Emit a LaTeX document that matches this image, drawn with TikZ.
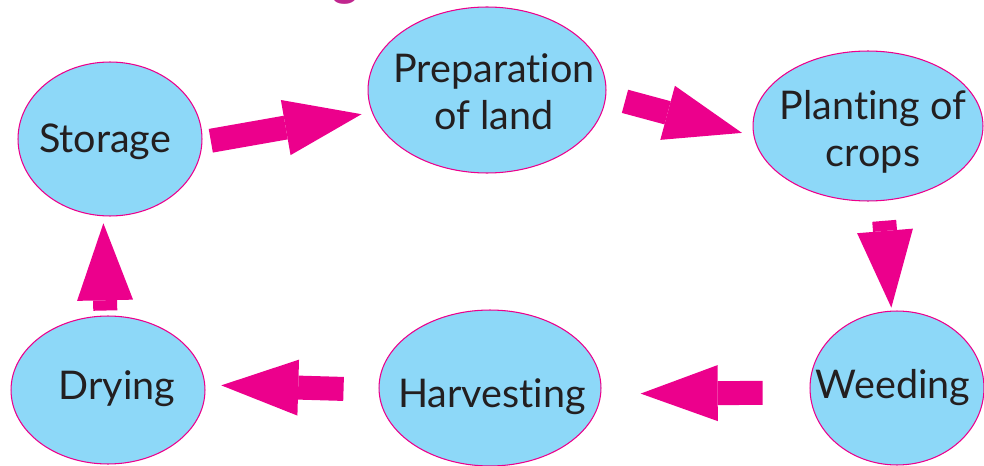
\documentclass[tikz,border=0pt]{standalone}
\usepackage{fontspec}
\setmainfont{Lato}[Ligatures={NoCommon}]
\usetikzlibrary{shapes.geometric,arrows.meta}
\definecolor{stagefill}{HTML}{8DD8F8}
\definecolor{arrowpink}{HTML}{EC008C}
\definecolor{stageink}{HTML}{231F20}
\definecolor{titlepink}{HTML}{C0268E}
\tikzset{
  stage/.style={ellipse, draw=arrowpink, line width=0.6pt, fill=stagefill, inner sep=0pt},
  stagetext/.style={text=stageink, align=center, anchor=base, inner sep=0pt,
    font=\fontsize{22.5}{27.2}\selectfont},
  bigarrow/.style={draw=arrowpink, line width=0.48cm,
    -{Triangle[length=1.54cm, width=1.12cm, line width=0pt]}},
}

\begin{document}
\begin{tikzpicture}[x=0.02cm, y=-0.02cm]
\useasboundingbox (0,0) rectangle (984,466);
\begin{scope}
\clip (0,0) rectangle (984,466);
\node[anchor=base, inner sep=0pt, text=titlepink, font=\fontsize{28}{28}\selectfont\bfseries] (title) at (345,-4) {g};
\end{scope}

\node[stage, minimum width=3.68cm, minimum height=3.08cm] (storage) at (110,139) {};
\node[stage, minimum width=4.76cm, minimum height=3.32cm] (prep) at (487,90) {};
\node[stage, minimum width=4.60cm, minimum height=3.00cm] (plant) at (868,126) {};
\node[stage, minimum width=3.48cm, minimum height=3.08cm] (weed) at (897,388) {};
\node[stage, minimum width=4.44cm, minimum height=3.12cm] (harv) at (490,388) {};
\node[stage, minimum width=3.88cm, minimum height=2.96cm] (dry) at (108,390) {};

\node[stagetext] (storage-t) at (105,153) {Storage};
\node[stagetext] (prep-t) at (494,130) {Preparation\\of land};
\node[stagetext] (plant-t) at (873,167) {Planting of\\crops};
\node[stagetext] (weed-t) at (893,398) {Weeding};
\node[stagetext] (harv-t) at (492,407) {Harvesting};
\node[stagetext] (dry-t) at (117,399) {Drying};

\draw[bigarrow, shorten <=0.17cm, shorten >=0.21cm] (storage.-2) -- (prep.191);
\draw[bigarrow, shorten <=0.39cm, shorten >=0.24cm] (prep.-3) -- (plant.185);
\draw[bigarrow, shorten <=0.40cm, shorten >=0.06cm] (plant.-79) -- (weed.94);
\draw[bigarrow, shorten <=0.94cm, shorten >=0.79cm] (weed.183) -- (harv.-3);
\draw[bigarrow, shorten <=0.70cm, shorten >=0.32cm] (harv.181) -- (dry.3);
\draw[bigarrow, shorten <=0.10cm, shorten >=0.14cm] (dry.92) -- (storage.-95);

\end{tikzpicture}
\end{document}
